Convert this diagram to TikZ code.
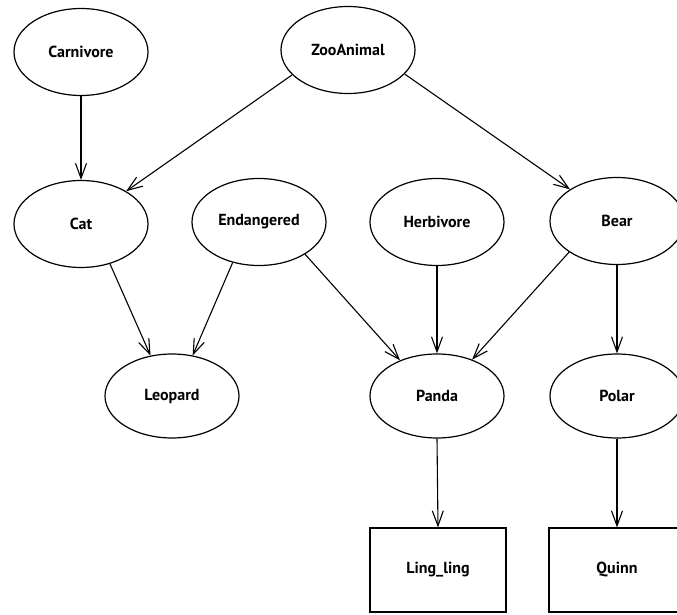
\documentclass[tikz,border=0pt]{standalone}
\usepackage{fontspec}
\setmainfont{PT Sans}
\usetikzlibrary{shapes.geometric,arrows.meta}
\begin{document}
\begin{tikzpicture}[x=1pt,y=1pt,
  lbl/.style={font=\fontsize{16}{19}\selectfont\bfseries},
  cls/.style={ellipse,draw,line width=1.2pt,inner sep=0pt,
    minimum width=134pt,minimum height=87pt,lbl},
  obj/.style={rectangle,draw,line width=1.2pt,inner sep=0pt,
    minimum width=136pt,minimum height=84pt,lbl},
  isa/.style={line width=1.1pt,-{Straight Barb[length=15pt,width=11pt,line width=1.1pt]}}]
\useasboundingbox (0,0) rectangle (677,614);

% classes
\node[cls] (carn)  at (81,562)  {Carnivore};
\node[cls] (zoo)   at (348,564) {ZooAnimal};
\node[cls] (cat)   at (81,390)  {Cat};
\node[cls] (endg)  at (259,392) {Endangered};
\node[cls] (herb)  at (437,392) {Herbivore};
\node[cls] (bear)  at (617,393) {Bear};
\node[cls,minimum height=84pt] (leop)  at (172,218) {Leopard};
\node[cls,minimum height=84pt] (panda) at (437,218) {Panda};
\node[cls,minimum height=84pt] (polar) at (617,218) {Polar};

% objects
\node[obj] (ling)  at (438,44) {Ling\_ling};
\node[obj] (quinn) at (617,44) {Quinn};

% inheritance links
\draw[isa] (carn.south) -- (cat.north);
\draw[isa] (zoo.204) -- (cat.36);
\draw[isa] (zoo.-23) -- (bear.146);
\draw[isa] (cat.-54) -- (leop.118);
\draw[isa] (endg.237) -- (leop.63);
\draw[isa] (endg.-35) -- (panda.136);
\draw[isa] (herb.south) -- (panda.north);
\draw[isa] (bear.213) -- (panda.46);
\draw[isa] (bear.south) -- (polar.north);
\draw[isa] (panda.south) -- (ling.north);
\draw[isa] (polar.south) -- (quinn.north);
\end{tikzpicture}
\end{document}
